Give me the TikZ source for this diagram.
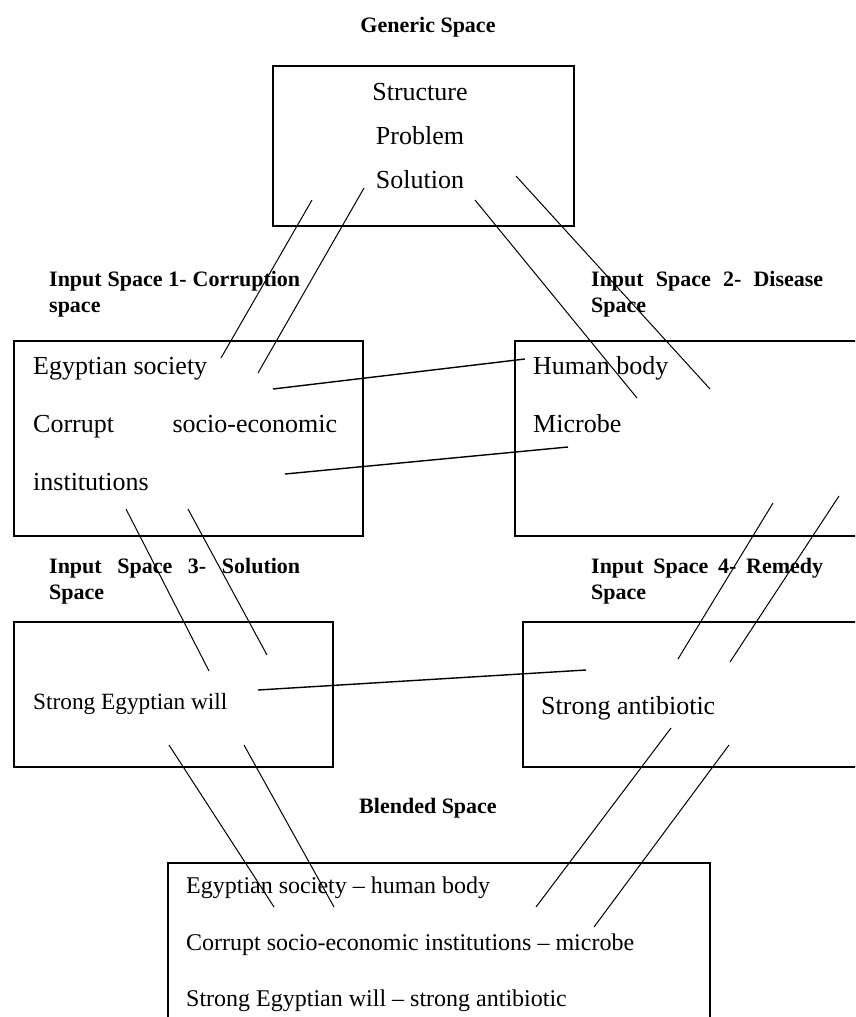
\documentclass[tikz,border=0pt]{standalone}
\usepackage{fontspec}
\setmainfont{Liberation Serif}
\begin{document}
\begin{tikzpicture}[x=1pt,y=-1pt,
  spacebox/.style={draw,line width=1.4pt,anchor=north west,inner sep=0pt,outer sep=0pt},
  link/.style={line width=1pt},
  bridge/.style={line width=1.4pt},
  entry/.style={font=\fontsize{26}{30}\selectfont,anchor=base west,inner sep=0pt},
  centry/.style={font=\fontsize{26}{30}\selectfont,anchor=base,inner sep=0pt},
  bentry/.style={font=\fontsize{24}{28}\selectfont,anchor=base west,inner sep=0pt},
  heading/.style={font=\bfseries\fontsize{22}{26}\selectfont,anchor=base west,inner sep=0pt},
  title/.style={font=\bfseries\fontsize{22}{26}\selectfont,anchor=base,inner sep=0pt}]
\useasboundingbox (0,0) rectangle (855,1017);
\clip (0,0) rectangle (855,1017);

% generic space
\node[title] (gtitle) at (428,32) {Generic Space};
\node[spacebox,minimum width=301pt,minimum height=160pt] (generic) at (273,66) {};
\node[centry] (gstruct) at (420,100) {Structure};
\node[centry] (gprob) at (420,144) {Problem};
\node[centry] (gsol) at (420,188) {Solution};

% input space 1
\node[heading] (h1a) at (49,286) {\makebox[251pt][s]{Input Space 1- Corruption}};
\node[heading] (h1b) at (49,312) {space};
\node[spacebox,minimum width=349pt,minimum height=195pt] (in1) at (14,341) {};
\node[entry] (society) at (33,374) {Egyptian society};
\node[entry] (corrupt) at (33,432) {\makebox[304pt][s]{Corrupt socio-economic}};
\node[entry] (instit) at (33,490) {institutions};

% input space 2
\node[heading] (h2a) at (591,286) {\makebox[232pt][s]{Input Space 2- Disease}};
\node[heading] (h2b) at (591,312) {Space};
\node[spacebox,minimum width=360pt,minimum height=195pt] (in2) at (515,341) {};
\node[entry] (body) at (533,374) {Human body};
\node[entry] (microbe) at (533,432) {Microbe};

% input space 3
\node[heading] (h3a) at (49,573) {\makebox[251pt][s]{Input Space 3- Solution}};
\node[heading] (h3b) at (49,599) {Space};
\node[spacebox,minimum width=319pt,minimum height=145pt] (in3) at (14,622) {};
\node[bentry,font=\fontsize{23.3}{28}\selectfont] (will) at (33,709) {Strong Egyptian will};

% input space 4
\node[heading] (h4a) at (591,573) {\makebox[232pt][s]{Input Space 4- Remedy}};
\node[heading] (h4b) at (591,599) {Space};
\node[spacebox,minimum width=350pt,minimum height=145pt] (in4) at (523,622) {};
\node[entry] (antib) at (541,714) {Strong antibiotic};

% blended space
\node[title] (btitle) at (428,813) {Blended Space};
\node[spacebox,minimum width=542pt,minimum height=180pt] (blend) at (168,863) {};
\node[bentry] (b1) at (186,893) {Egyptian society -- human body};
\node[bentry] (b2) at (186,950) {Corrupt socio-economic institutions -- microbe};
\node[bentry] (b3) at (186,1006) {Strong Egyptian will -- strong antibiotic};

% end points of the mapping lines
\coordinate (gA) at (312,200);  \coordinate (s1A) at (221,358);
\coordinate (gB) at (364,188);  \coordinate (s1B) at (258,373);
\coordinate (gC) at (475,200);  \coordinate (s2A) at (637,398);
\coordinate (gD) at (516,176);  \coordinate (s2B) at (710,389);
\coordinate (s1C) at (273,389); \coordinate (s2C) at (525,359);
\coordinate (s1D) at (285,474); \coordinate (s2D) at (568,447);
\coordinate (s1E) at (126,509); \coordinate (s3A) at (209,671);
\coordinate (s1F) at (188,509); \coordinate (s3B) at (267,655);
\coordinate (s2E) at (773,503); \coordinate (s4A) at (678,659);
\coordinate (s2F) at (839,496); \coordinate (s4B) at (730,662);
\coordinate (s3C) at (258,690); \coordinate (s4C) at (586,670);
\coordinate (s3D) at (169,745); \coordinate (bA) at (274,907);
\coordinate (s3E) at (244,745); \coordinate (bB) at (334,907);
\coordinate (s4D) at (671,728); \coordinate (bC) at (536,907);
\coordinate (s4E) at (729,745); \coordinate (bD) at (594,927);

% generic space to the first two inputs
\draw[link] (gA) -- (s1A);
\draw[link] (gB) -- (s1B);
\draw[link] (gC) -- (s2A);
\draw[link] (gD) -- (s2B);
% cross-space mappings
\draw[bridge] (s1C) -- (s2C);
\draw[bridge] (s1D) -- (s2D);
\draw[bridge] (s3C) -- (s4C);
% inputs 1 and 2 to inputs 3 and 4
\draw[link] (s1E) -- (s3A);
\draw[link] (s1F) -- (s3B);
\draw[link] (s2E) -- (s4A);
\draw[link] (s2F) -- (s4B);
% inputs 3 and 4 to the blend
\draw[link] (s3D) -- (bA);
\draw[link] (s3E) -- (bB);
\draw[link] (s4D) -- (bC);
\draw[link] (s4E) -- (bD);
\end{tikzpicture}
\end{document}
